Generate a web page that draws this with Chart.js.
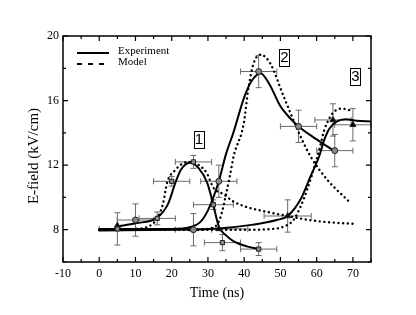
<!DOCTYPE html>
<html>
<head>
<meta charset="utf-8">
<script src="https://cdn.jsdelivr.net/npm/chart.js@4"></script>
<style>
  html, body { margin: 0; padding: 0; background: #fff; }
  canvas { display: block; }
</style>
</head>
<body>
<canvas id="chart" width="416" height="315"></canvas>
<script>
// axis ticks
const xTicks = [-10, 0, 10, 20, 30, 40, 50, 60, 70];
const xMinor = [-5, 5, 15, 25, 35, 45, 55, 65, 75];
const yTicks = [8, 12, 16, 20];
const yMinor = [6, 10, 14, 18];
const yTitle = 'E-field (kV/cm)';

// experiment fits (solid)
const exp1X = [5, 10, 16, 19, 21, 22.5, 25, 27.5, 29.8, 31.2, 33, 35, 37, 41, 44];
const exp1Y = [8.2, 8.4, 8.75, 9.6, 10.9, 11.7, 12.15, 11.8, 10.9, 9.8, 8.2, 7.65, 7.3, 6.95, 6.8];
const exp2X = [0, 20, 25, 28, 30, 31.5, 33, 35, 37, 40, 42, 44.5, 47, 50, 52.5, 55, 60, 65];
const exp2Y = [8.05, 8.05, 8.15, 8.5, 9.2, 10.0, 11.0, 12.7, 14.0, 16.2, 17.2, 17.7, 17.0, 15.65, 14.95, 14.4, 13.6, 12.85];
const exp3X = [0, 20, 33, 42, 49, 52, 55.5, 58.3, 60.7, 62, 63.5, 65.5, 68, 71, 75];
const exp3Y = [7.95, 8.0, 8.08, 8.3, 8.6, 8.85, 9.85, 11.3, 12.55, 13.5, 14.25, 14.7, 14.85, 14.75, 14.7];

// model curves (dotted)
const mod1X = [0, 10, 14, 16, 17.7, 18.7, 21, 23, 25, 27.5, 29.7, 31.5, 34.3, 37, 40.8, 46.4, 52, 58, 64, 70];
const mod1Y = [8.0, 8.05, 8.25, 8.7, 9.7, 10.9, 11.7, 12.1, 12.2, 12.0, 11.5, 10.6, 10.2, 9.75, 9.4, 9.1, 8.85, 8.6, 8.45, 8.37];
const mod2X = [0, 25, 31, 33, 34, 35, 36.2, 37.1, 39.9, 41.2, 42.6, 44.5, 47.2, 50.9, 55.5, 58.3, 62.9, 68.9];
const mod2Y = [8.0, 8.0, 8.1, 8.5, 9.2, 10.2, 11.5, 12.55, 14.6, 16.8, 18.3, 18.85, 18.3, 16.25, 13.8, 12.55, 11.1, 9.75];
const mod3X = [0, 40, 48, 51, 53.6, 55.5, 57.4, 59.7, 61, 62, 63.5, 65, 67, 70];
const mod3Y = [8.0, 8.0, 8.05, 8.2, 8.6, 9.4, 10.5, 12.15, 13.2, 14.1, 14.9, 15.35, 15.5, 15.35];

// measured points with error bars
const sqX = [5, 16, 20, 26, 31.5, 34, 44];
const sqY = [8.05, 8.7, 11.0, 12.2, 9.55, 7.2, 6.8];
const sqXe = [5, 5, 5, 5, 5.5, 5, 5];
const sqYe = [1.0, 0.4, 0.3, 0.4, 0.3, 0.5, 0.4];
const ciX = [10, 26, 33, 44, 55, 65];
const ciY = [8.6, 8.0, 11.0, 17.8, 14.4, 12.9];
const ciXe = [5, 5, 5, 5, 5, 5];
const ciYe = [1.0, 1.0, 1.0, 1.0, 1.0, 1.0];
const trX = [5, 33, 52, 64.5, 70];
const trY = [8.25, 8.05, 8.85, 14.8, 14.5];
const trXe = [0, 8, 6.5, 5, 5];
const trYe = [0, 0, 1.0, 1.0, 1.0];

// boxed peak labels
const peakLabels = ['1', '2', '3'];
const peakX = [27.5, 51.1, 70.7];
const peakY = [13.6, 18.7, 17.55];

const SERIF = "'Liberation Serif', 'Times New Roman', serif";

function pts(xs, ys) {
  return xs.map((x, i) => ({ x, y: ys[i] }));
}

function curve(xs, ys, dotted) {
  return {
    data: pts(xs, ys),
    showLine: true,
    pointRadius: 0,
    borderColor: '#000',
    borderWidth: dotted ? 2.4 : 2,
    borderDash: dotted ? [0.1, 4.6] : [],
    borderCapStyle: dotted ? 'round' : 'butt',
    cubicInterpolationMode: 'monotone',
    fill: false,
    order: 5,
  };
}

function markers(xs, ys, style, fill, r) {
  return {
    data: pts(xs, ys),
    showLine: false,
    pointStyle: style,
    pointRadius: r,
    pointBackgroundColor: fill,
    pointBorderColor: '#222',
    pointBorderWidth: 1,
    order: 1,
  };
}

const errorSets = [
  [sqX, sqY, sqXe, sqYe],
  [ciX, ciY, ciXe, ciYe],
  [trX, trY, trXe, trYe],
];

const errorBars = {
  id: 'errorBars',
  beforeDatasetsDraw(chart) {
    const { ctx, scales: { x, y } } = chart;
    ctx.save();
    ctx.strokeStyle = '#6a6a6a';
    ctx.lineWidth = 1;
    const cap = 3;
    errorSets.forEach(([xs, ys, xe, ye]) => {
      xs.forEach((v, i) => {
        const px = x.getPixelForValue(v);
        const py = y.getPixelForValue(ys[i]);
        ctx.beginPath();
        if (xe[i]) {
          const l = x.getPixelForValue(v - xe[i]);
          const r = x.getPixelForValue(v + xe[i]);
          ctx.moveTo(l, py); ctx.lineTo(r, py);
          ctx.moveTo(l, py - cap); ctx.lineTo(l, py + cap);
          ctx.moveTo(r, py - cap); ctx.lineTo(r, py + cap);
        }
        if (ye[i]) {
          const t = y.getPixelForValue(ys[i] + ye[i]);
          const b = y.getPixelForValue(ys[i] - ye[i]);
          ctx.moveTo(px, t); ctx.lineTo(px, b);
          ctx.moveTo(px - cap, t); ctx.lineTo(px + cap, t);
          ctx.moveTo(px - cap, b); ctx.lineTo(px + cap, b);
        }
        ctx.stroke();
      });
    });
    ctx.restore();
  },
};

const frame = {
  id: 'frame',
  afterDraw(chart) {
    const { ctx, chartArea: a, scales: { x, y } } = chart;
    ctx.save();
    ctx.strokeStyle = '#000';
    ctx.lineWidth = 1.5;
    ctx.strokeRect(a.left, a.top, a.right - a.left, a.bottom - a.top);
    ctx.lineWidth = 1.2;
    ctx.beginPath();
    const xt = (v, len) => {
      const p = x.getPixelForValue(v);
      ctx.moveTo(p, a.bottom); ctx.lineTo(p, a.bottom - len);
      ctx.moveTo(p, a.top); ctx.lineTo(p, a.top + len);
    };
    const yt = (v, len) => {
      const p = y.getPixelForValue(v);
      ctx.moveTo(a.left, p); ctx.lineTo(a.left + len, p);
      ctx.moveTo(a.right, p); ctx.lineTo(a.right - len, p);
    };
    xTicks.forEach(v => xt(v, 5));
    xMinor.forEach(v => xt(v, 3));
    yTicks.forEach(v => yt(v, 5));
    yMinor.forEach(v => yt(v, 3));
    ctx.stroke();

    // legend
    const lx = a.left + 14;
    ctx.lineWidth = 2;
    ctx.beginPath();
    ctx.moveTo(lx, a.top + 17); ctx.lineTo(lx + 32, a.top + 17);
    ctx.stroke();
    ctx.setLineDash([5, 6]);
    ctx.beginPath();
    ctx.moveTo(lx, a.top + 28); ctx.lineTo(lx + 32, a.top + 28);
    ctx.stroke();
    ctx.setLineDash([]);
    ctx.fillStyle = '#000';
    ctx.font = '11px ' + SERIF;
    ctx.textBaseline = 'middle';
    ctx.textAlign = 'left';
    ctx.fillText('Experiment', lx + 41, a.top + 15);
    ctx.fillText('Model', lx + 41, a.top + 26);

    // y axis title
    ctx.save();
    ctx.translate(34, 156);
    ctx.rotate(-Math.PI / 2);
    ctx.textAlign = 'center';
    ctx.font = '15px ' + SERIF;
    ctx.fillText(yTitle, 0, 0);
    ctx.restore();

    // boxed peak numbers
    ctx.font = "15px 'Liberation Sans', Arial, sans-serif";
    ctx.textAlign = 'center';
    ctx.lineWidth = 1;
    peakLabels.forEach((t, i) => {
      const px = x.getPixelForValue(peakX[i]);
      const py = y.getPixelForValue(peakY[i]);
      ctx.fillText(t, px, py + 1);
      ctx.strokeRect(Math.round(px - 5) + 0.5, Math.round(py - 8) + 0.5, 10, 17);
    });
    ctx.restore();
  },
};

new Chart(document.getElementById('chart'), {
  type: 'scatter',
  data: {
    datasets: [
      markers(sqX, sqY, 'rect', '#8a8a8a', 3),
      markers(ciX, ciY, 'circle', '#8a8a8a', 3),
      markers(trX, trY, 'triangle', '#000', 3.5),
      curve(exp1X, exp1Y, false),
      curve(exp2X, exp2Y, false),
      curve(exp3X, exp3Y, false),
      curve(mod1X, mod1Y, true),
      curve(mod2X, mod2Y, true),
      curve(mod3X, mod3Y, true),
    ],
  },
  options: {
    responsive: false,
    animation: false,
    devicePixelRatio: 1,
    layout: { padding: { top: 36, right: 45, left: 0, bottom: 0 } },
    plugins: { legend: { display: false }, tooltip: { enabled: false } },
    scales: {
      x: {
        type: 'linear',
        min: -10,
        max: 75,
        afterBuildTicks: s => { s.ticks = xTicks.map(v => ({ value: v })); },
        afterFit: s => { s.height = 53; },
        grid: { display: false, drawTicks: false },
        border: { display: false },
        ticks: { color: '#000', padding: 5, maxRotation: 0, font: { family: SERIF, size: 12 } },
        title: { display: true, text: 'Time (ns)', color: '#000', padding: { top: 0, bottom: 13 }, font: { family: SERIF, size: 14 } },
      },
      y: {
        type: 'linear',
        min: 6,
        max: 20,
        afterBuildTicks: s => { s.ticks = yTicks.map(v => ({ value: v })); },
        afterFit: s => { s.width = 63; },
        grid: { display: false, drawTicks: false },
        border: { display: false },
        ticks: { color: '#000', padding: 4, font: { family: SERIF, size: 12 } },
        title: { display: false },
      },
    },
  },
  plugins: [errorBars, frame],
});
</script>
</body>
</html>
